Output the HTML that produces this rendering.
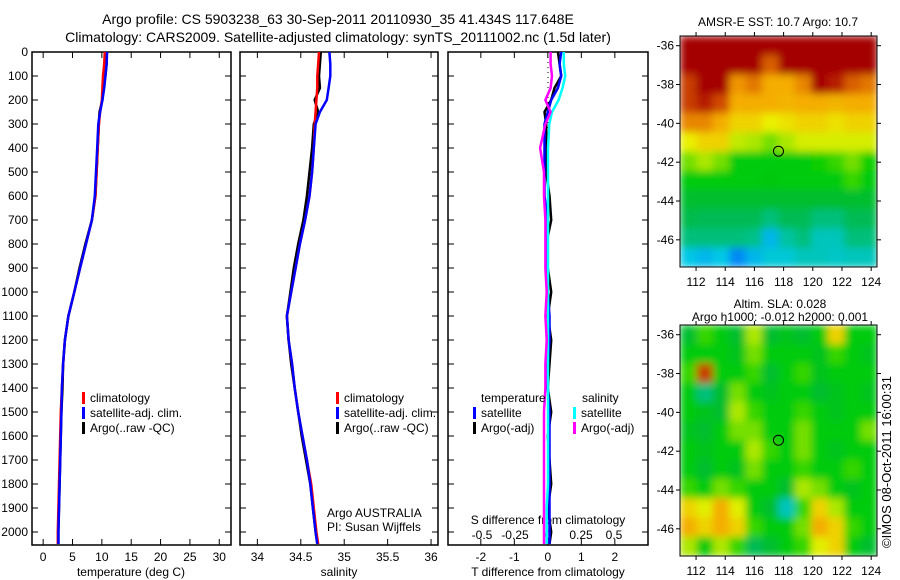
<!DOCTYPE html>
<html><head><meta charset="utf-8"><style>
body{margin:0;background:#fff;}
svg{display:block;font-family:"Liberation Sans",sans-serif;}
</style></head><body>
<svg id="c" width="900" height="580" xmlns="http://www.w3.org/2000/svg">
<defs>
<filter id="blur" x="0" y="0" width="1" height="1"><feGaussianBlur stdDeviation="4" edgeMode="duplicate"/></filter>
<clipPath id="clipTop"><rect x="680" y="36" width="197" height="231"/></clipPath>
<clipPath id="clipBot"><rect x="680" y="325" width="197" height="231"/></clipPath>
</defs>
<rect width="900" height="580" fill="#fff"/>
<text x="338" y="24" font-size="14" text-anchor="middle">Argo profile: CS 5903238_63 30-Sep-2011 20110930_35 41.434S 117.648E</text>
<text x="338" y="42" font-size="14" text-anchor="middle">Climatology: CARS2009. Satellite-adjusted climatology: synTS_20111002.nc (1.5d later)</text>
<text transform="translate(891,548) rotate(-90)" font-size="13">©IMOS 08-Oct-2011 16:00:31</text>
</svg>
<script>
// ---------- data ----------
const depths=[0,50,100,150,200,250,300,400,500,600,700,800,900,1000,1100,1200,1300,1400,1500,1600,1700,1800,1900,2000,2050];
const tempClim=[10.5,10.4,10.2,10.1,10.0,9.7,9.5,9.3,9.1,8.9,8.3,7.3,6.3,5.3,4.3,3.7,3.4,3.2,3.0,2.9,2.8,2.7,2.6,2.5,2.5];
const tempSat=[10.9,10.8,10.6,10.4,10.1,9.7,9.4,9.2,9.0,8.8,8.3,7.3,6.3,5.3,4.3,3.7,3.4,3.2,3.1,3.0,2.9,2.8,2.7,2.6,2.6];
const tempArgo=[10.8,10.8,10.6,10.3,10.1,9.6,9.5,9.3,9.1,8.9,8.3,7.2,6.2,5.3,4.3,3.7,3.4,3.3,3.1,3.0,2.9,2.8,2.7,2.6,2.6];
const salClim=[34.71,34.70,34.69,34.69,34.68,34.67,34.66,34.65,34.63,34.60,34.55,34.49,34.44,34.39,34.34,34.36,34.40,34.43,34.47,34.52,34.57,34.62,34.65,34.68,34.70];
const salSat=[34.83,34.84,34.84,34.82,34.80,34.72,34.67,34.65,34.63,34.60,34.55,34.49,34.44,34.39,34.34,34.36,34.40,34.43,34.47,34.52,34.57,34.61,34.64,34.67,34.69];
const salArgo=[34.73,34.72,34.71,34.72,34.66,34.70,34.65,34.63,34.60,34.57,34.53,34.47,34.42,34.38,34.34,34.36,34.39,34.43,34.47,34.51,34.56,34.61,34.64,34.67,34.69];
const tdSat=[0.4,0.35,0.4,0.3,0.1,0.0,-0.1,-0.1,-0.1,-0.1,0.0,0.0,0.0,0.0,0.05,0.05,0.0,0.0,0.05,0.05,0.05,0.05,0.05,0.05,0.05];
const tdArgo=[0.3,0.35,0.4,0.2,0.1,-0.1,-0.05,-0.05,-0.05,0.05,0.1,-0.05,0.0,0.1,0.0,0.1,0.05,0.0,0.1,0.0,0.05,0.1,0.0,0.1,0.05];
const sdSat=[0.12,0.12,0.13,0.11,0.08,0.03,0.01,0.0,0.0,0.0,0.0,0.0,0.0,0.0,0.0,0.0,0.0,0.0,0.0,0.0,0.0,0.0,-0.01,-0.01,-0.01];
const sdArgo=[0.02,0.02,0.03,0.02,-0.02,0.02,-0.02,-0.06,-0.03,-0.03,-0.02,-0.02,-0.02,-0.01,-0.02,-0.01,-0.02,-0.02,-0.03,-0.03,-0.03,-0.03,-0.03,-0.03,-0.03];
const depthTicks=[0,100,200,300,400,500,600,700,800,900,1000,1100,1200,1300,1400,1500,1600,1700,1800,1900,2000];
const tempTicks=[0,5,10,15,20,25,30];
const salTicks=[34,34.5,35,35.5,36];
const tdTicks=[-2,-1,0,1,2];
const sdTicks=[-0.5,-0.25,0,0.25,0.5];
const sstGrid=[
[1,1,1,1,1,1,1,1,1,1,1,1],
[1,1,1,1,1,0.85,1,1,1,1,1,1],
[0.9,1,1,0.78,0.82,0.75,0.75,0.8,1,0.95,0.85,0.82],
[0.9,0.95,0.88,0.75,0.75,0.75,0.74,0.75,0.75,0.74,0.75,0.75],
[0.8,0.8,0.75,0.7,0.7,0.66,0.68,0.7,0.7,0.68,0.7,0.7],
[0.66,0.7,0.7,0.62,0.6,0.55,0.6,0.64,0.64,0.64,0.64,0.64],
[0.55,0.6,0.55,0.45,0.45,0.45,0.45,0.45,0.47,0.5,0.55,0.47],
[0.45,0.45,0.45,0.45,0.45,0.44,0.45,0.45,0.45,0.45,0.5,0.45],
[0.4,0.4,0.4,0.4,0.4,0.4,0.4,0.4,0.4,0.4,0.4,0.4],
[0.36,0.35,0.35,0.35,0.35,0.3,0.35,0.35,0.3,0.3,0.35,0.35],
[0.3,0.3,0.3,0.3,0.28,0.1,0.25,0.3,0.2,0.2,0.3,0.3],
[0.12,0.1,0.12,0.05,0.1,0.15,0.15,0.2,0.2,0.18,0.2,0.2]];
const slaGrid=[
[0.4,0.5,0.45,0.4,0.6,0.4,0.42,0.4,0.45,0.7,0.45,0.45],
[0.45,0.45,0.45,0.42,0.55,0.45,0.45,0.45,0.42,0.5,0.45,0.42],
[0.5,0.9,0.45,0.45,0.5,0.4,0.45,0.5,0.42,0.45,0.45,0.45],
[0.45,0.3,0.4,0.55,0.45,0.42,0.45,0.45,0.4,0.42,0.45,0.42],
[0.45,0.42,0.4,0.6,0.5,0.45,0.45,0.5,0.45,0.42,0.45,0.45],
[0.42,0.4,0.45,0.55,0.55,0.45,0.45,0.55,0.45,0.45,0.45,0.55],
[0.45,0.42,0.45,0.45,0.6,0.5,0.45,0.55,0.45,0.42,0.45,0.45],
[0.45,0.4,0.45,0.42,0.55,0.45,0.45,0.5,0.45,0.45,0.5,0.45],
[0.5,0.45,0.55,0.5,0.45,0.45,0.4,0.6,0.55,0.45,0.42,0.45],
[0.7,0.65,0.75,0.65,0.45,0.4,0.2,0.5,0.7,0.6,0.45,0.45],
[0.75,0.7,0.75,0.7,0.5,0.45,0.45,0.55,0.75,0.7,0.5,0.45],
[0.6,0.45,0.6,0.5,0.35,0.4,0.45,0.5,0.65,0.7,0.45,0.4]];
const lonTicks=[112,114,116,118,120,122,124];
const latTicks=[-36,-38,-40,-42,-44,-46];
const argoLon=117.648, argoLat=-41.434;

// ---------- helpers ----------
const svg=document.getElementById('c');
const NS='http://www.w3.org/2000/svg';
function mk(tag,attrs,parent){const e=document.createElementNS(NS,tag);for(const k in attrs)e.setAttribute(k,attrs[k]);(parent||svg).appendChild(e);return e;}
function txt(x,y,s,size,anchor,parent){const t=mk('text',{x:x,y:y,'font-size':size||12,'text-anchor':anchor||'start'},parent);t.textContent=s;return t;}
const Y0=52,Y1=545;
const yD=d=>Y0+d*0.24;

function panel(name,x0,x1,xmin,xmax){
  const g=mk('g',{});
  
  
  mk('rect',{x:x0,y:Y0,width:x1-x0,height:Y1-Y0,fill:'none',stroke:'#000','stroke-width':1.5},g);
  const xs=v=>x0+(v-xmin)/(xmax-xmin)*(x1-x0);
  depthTicks.forEach(d=>{const y=yD(d);mk('line',{x1:x0,x2:x0+6,y1:y,y2:y,stroke:'#000'},g);mk('line',{x1:x1-6,x2:x1,y1:y,y2:y,stroke:'#000'},g);});
  return {g,xs};
}
function line(g,xs,vals,color,name,w){
  let d='';vals.forEach((v,i)=>{d+=(i?'L':'M')+xs(v).toFixed(1)+','+yD(depths[i]).toFixed(1);});
  const p=mk('path',{d:d,fill:'none',stroke:color,'stroke-width':w||2.5},g);
  
  
}
function legend(g,x,y,items){
  items.forEach((it,i)=>{mk('rect',{x:x,y:y+i*15-10,width:3,height:12,fill:it[0]},g);
    const t=txt(x+8,y+i*15,it[1],12,'start',g);
    
    });
}

depthTicks.forEach(d=>{const t=txt(28,yD(d)+4,String(d),12,'end');
  
  });

const p1=panel('temperature-panel',32,231,-1.9,32);
tempTicks.forEach(v=>{const x=p1.xs(v);mk('line',{x1:x,x2:x,y1:Y0,y2:Y0+6,stroke:'#000'},p1.g);mk('line',{x1:x,x2:x,y1:Y1-6,y2:Y1,stroke:'#000'},p1.g);txt(x,561,String(v),12,'middle',p1.g);});
txt(131,576,'temperature (deg C)',12,'middle',p1.g);
line(p1.g,p1.xs,tempArgo,'#000','temp-argo-line');
line(p1.g,p1.xs,tempClim,'#f00','temp-climatology-line');
line(p1.g,p1.xs,tempSat,'#00f','temp-satellite-line');
legend(p1.g,82,402,[['#f00','climatology'],['#00f','satellite-adj. clim.'],['#000','Argo(..raw -QC)']]);

const p2=panel('salinity-panel',240,438,33.8,36.08);
salTicks.forEach(v=>{const x=p2.xs(v);mk('line',{x1:x,x2:x,y1:Y0,y2:Y0+6,stroke:'#000'},p2.g);mk('line',{x1:x,x2:x,y1:Y1-6,y2:Y1,stroke:'#000'},p2.g);txt(x,561,String(v),12,'middle',p2.g);});
txt(339,576,'salinity',12,'middle',p2.g);
line(p2.g,p2.xs,salArgo,'#000','sal-argo-line');
line(p2.g,p2.xs,salClim,'#f00','sal-climatology-line');
line(p2.g,p2.xs,salSat,'#00f','sal-satellite-line');
legend(p2.g,336,402,[['#f00','climatology'],['#00f','satellite-adj. clim.'],['#000','Argo(..raw -QC)']]);
txt(327,517,'Argo AUSTRALIA',12,'start',p2.g);
txt(327,531,'PI: Susan Wijffels',12,'start',p2.g);

const p3=panel('difference-panel',448,648,-2.98,2.99);
const sxs=v=>548+v*132;
tdTicks.forEach(v=>{const x=p3.xs(v);mk('line',{x1:x,x2:x,y1:Y0,y2:Y0+6,stroke:'#000'},p3.g);mk('line',{x1:x,x2:x,y1:Y1-6,y2:Y1,stroke:'#000'},p3.g);txt(x,561,String(v),12,'middle',p3.g);});
sdTicks.forEach(v=>{txt(sxs(v),539,String(v),12,'middle',p3.g);});
txt(548,524,'S difference from climatology',12,'middle',p3.g);
txt(548,576,'T difference from climatology',12,'middle',p3.g);
mk('line',{x1:548,x2:548,y1:Y0,y2:Y1-20,stroke:'#000','stroke-dasharray':'1,4'},p3.g);
line(p3.g,p3.xs,tdArgo,'#000','tdiff-argo-line');
line(p3.g,p3.xs,tdSat,'#00f','tdiff-satellite-line');
line(p3.g,sxs,sdSat,'#0ff','sdiff-satellite-line');
line(p3.g,sxs,sdArgo,'#f0f','sdiff-argo-line');
txt(481,402,'temperature',12,'start',p3.g);
txt(582,402,'salinity',12,'start',p3.g);
legend(p3.g,473,417,[['#00f','satellite'],['#000','Argo(-adj)']]);
legend(p3.g,573,417,[['#0ff','satellite'],['#f0f','Argo(-adj)']]);

function cmap(v){
  const stops=[[0,[0,90,255]],[0.12,[0,200,230]],[0.25,[0,195,160]],[0.38,[0,185,60]],[0.46,[0,205,0]],[0.56,[130,225,0]],[0.66,[235,240,0]],[0.76,[245,165,0]],[0.87,[210,80,0]],[1,[165,0,0]]];
  for(let i=1;i<stops.length;i++){if(v<=stops[i][0]){const a=stops[i-1],b=stops[i],t=(v-a[0])/(b[0]-a[0]);return 'rgb('+a[1].map((c,k)=>Math.round(c+(b[1][k]-c)*t)).join(',')+')';}}
  return 'rgb(165,0,0)';
}
function map(name,grid,top,clip,title1,title2){
  const L=680,R=877,B=top+231,lon0=110.9,lon1=124.4,lat0=-35.5,lat1=-47.4;
  const xs=v=>L+(v-lon0)/(lon1-lon0)*(R-L);
  const ys=v=>top+(v-lat0)/(lat1-lat0)*(B-top);
  const g=mk('g',{});
  
  
  const cg=mk('g',{'clip-path':'url(#'+clip+')'},g);
  const fg=mk('g',{filter:'url(#blur)'},cg);
  const nr=grid.length,nc=grid[0].length,cw=(R-L)/nc,ch=(B-top)/nr;
  grid.forEach((row,i)=>row.forEach((v,j)=>{
    const r=mk('rect',{x:(L+j*cw).toFixed(2),y:(top+i*ch).toFixed(2),width:(cw+0.6).toFixed(2),height:(ch+0.6).toFixed(2),fill:cmap(v)},fg);
    
    
  }));
  mk('rect',{x:L,y:top,width:R-L,height:B-top,fill:'none',stroke:'#000'},g);
  lonTicks.forEach(v=>{const x=xs(v);mk('line',{x1:x,x2:x,y1:top-4,y2:top,stroke:'#000'},g);mk('line',{x1:x,x2:x,y1:B,y2:B+4,stroke:'#000'},g);txt(x,B+19,String(v),12,'middle',g);});
  latTicks.forEach(v=>{const y=ys(v);mk('line',{x1:L-4,x2:L,y1:y,y2:y,stroke:'#000'},g);mk('line',{x1:R,x2:R+4,y1:y,y2:y,stroke:'#000'},g);txt(L-6,y+4,String(v),12,'end',g);});
  const c=mk('circle',{cx:xs(argoLon),cy:ys(argoLat),r:5,fill:'none',stroke:'#000'},g);
  
  
  if(title2){txt(780,top-17,title1,12,'middle',g);txt(780,top-4,title2,12,'middle',g);}
  else txt(778,top-10,title1,12,'middle',g);
}
map('sst-map',sstGrid,36,'clipTop','AMSR-E SST: 10.7 Argo: 10.7');
map('sla-map',slaGrid,325,'clipBot','Altim. SLA: 0.028','Argo h1000: -0.012 h2000: 0.001');
</script>
</body></html>
